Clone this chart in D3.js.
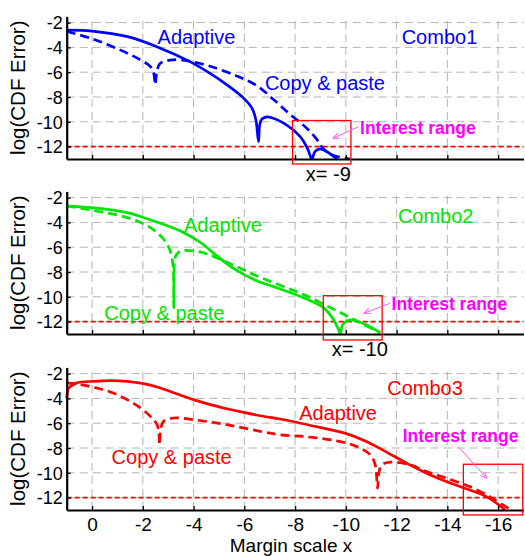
<!DOCTYPE html>
<html>
<head>
<meta charset="utf-8">
<script src="https://cdn.jsdelivr.net/npm/d3@7/dist/d3.min.js"></script>
<style>
  html, body { margin: 0; padding: 0; background: #fff; }
  svg { display: block; font-family: "Liberation Sans", Arial, Helvetica, sans-serif; }
</style>
</head>
<body>
<svg id="chart" width="525" height="556"></svg>
<script>
// Tick values shared by all three panels
const xTicks = [0, -2, -4, -6, -8, -10, -12, -14, -16];
const yTicks = [-2, -4, -6, -8, -10, -12];
const thresholdLevel = -12;

// Combo1: [margin scale x, log(CDF error)]
const combo1Adaptive = [
  [1, -2.6], [0, -2.68], [-1.4, -3.13], [-2.55, -3.94], [-3.86, -5.15], [-4.65, -6.1],
  [-5.3, -7.0], [-5.95, -8.05], [-6.3, -8.9], [-6.45, -9.8], [-6.56, -11.6],
  [-6.6, -10.3], [-6.68, -9.8], [-6.85, -9.62], [-7.05, -9.65], [-7.55, -10.1],
  [-8.2, -11.2], [-8.5, -12.2], [-8.66, -13.0], [-8.78, -12.4], [-8.95, -12.2],
  [-9.1, -12.25], [-9.4, -12.6], [-9.65, -13.0]
];
const combo1Copy = [
  [1, -2.72], [0, -3.3], [-1.1, -4.2], [-1.9, -5.0], [-2.3, -5.55], [-2.43, -6.1],
  [-2.49, -7.0], [-2.55, -6.0], [-2.68, -5.3], [-3.2, -5.0], [-3.86, -5.12],
  [-4.65, -5.52], [-5.7, -6.3], [-6.5, -7.1], [-7.15, -8.2], [-7.8, -9.4],
  [-8.45, -10.5], [-8.85, -11.4], [-9.1, -12.15], [-9.5, -12.7], [-10.15, -13.0]
];

// Combo2
const combo2Adaptive = [
  [1, -2.68], [0, -2.81], [-1.38, -3.21], [-2.43, -3.89], [-3.48, -4.69], [-4.26, -5.6],
  [-4.92, -6.7], [-5.57, -7.7], [-6.5, -8.72], [-7.15, -9.18], [-7.81, -9.66],
  [-8.47, -10.2], [-9.12, -10.87], [-9.5, -11.8], [-9.7, -12.6], [-9.78, -13.0],
  [-9.86, -12.3], [-10.04, -11.95], [-10.3, -11.87], [-10.83, -12.3], [-11.35, -12.89]
];
const combo2Copy = [
  [1, -2.68], [0, -3.02], [-1.38, -3.61], [-2.3, -4.42], [-2.82, -5.36], [-3.08, -6.3],
  [-3.19, -7.5], [-3.22, -10.87], [-3.25, -7.2], [-3.32, -6.6], [-3.5, -6.3],
  [-3.67, -6.25], [-4.26, -6.38], [-5.05, -6.97], [-5.84, -7.7], [-6.5, -8.32],
  [-7.15, -8.85], [-7.81, -9.39], [-8.47, -9.94], [-9.12, -10.6], [-9.78, -11.27],
  [-10.43, -11.95], [-11.22, -12.76], [-11.35, -12.89]
];

// Combo3
const combo3Adaptive = [
  [1, -4.0], [0.97, -3.5], [0.92, -3.16], [0.6, -2.75], [-0.07, -2.62], [-0.72, -2.57],
  [-1.38, -2.62], [-2.03, -2.81], [-2.69, -3.16], [-3.35, -3.64], [-4.0, -4.1],
  [-4.66, -4.5], [-5.31, -4.83], [-5.97, -5.13], [-6.63, -5.4], [-7.4, -5.66],
  [-8.0, -5.9], [-8.98, -6.34], [-9.96, -6.8], [-10.81, -7.47], [-11.6, -8.33],
  [-12.39, -9.22], [-13.18, -10.03], [-13.96, -10.71], [-14.88, -11.38],
  [-15.54, -11.92], [-16.19, -12.86], [-16.26, -13.0]
];
const combo3Copy = [
  [1, -2.75], [0.46, -2.89], [-0.07, -3.11], [-0.72, -3.48], [-1.38, -4.1], [-1.9, -4.77],
  [-2.3, -5.45], [-2.56, -6.12], [-2.63, -6.8], [-2.66, -7.74], [-2.7, -6.5],
  [-2.82, -5.85], [-3.22, -5.58], [-4.0, -5.72], [-5.31, -6.12], [-6.63, -6.66],
  [-7.4, -6.93], [-8.33, -7.07], [-9.64, -7.42], [-10.43, -7.88], [-10.96, -8.55],
  [-11.15, -9.3], [-11.25, -11.24], [-11.3, -10.0], [-11.42, -9.36], [-11.75, -9.14],
  [-12.54, -9.36], [-13.18, -9.9], [-13.96, -10.43], [-14.88, -11.11],
  [-15.67, -11.92], [-16.19, -12.59], [-16.52, -13.0]
];

const comboNames = ["Combo1", "Combo2", "Combo3"];
const adaptiveSeries = [combo1Adaptive, combo2Adaptive, combo3Adaptive];
const copySeries = [combo1Copy, combo2Copy, combo3Copy];
const markerLabels = ["x= -9", "x= -10", null];

// Per-panel layout and annotation placement (in data units)
const panels = [
  {
    bottom: 159, color: "#0000ff",
    adaptiveLabel: [-2.58, -3.75], comboLabel: [-12.2, -3.75], copyLabel: [-6.81, -7.44],
    box: [-7.9, -10.2, -9.9, -13.4],
    arrow: [[-10.49, -10.4], [-9.5, -11.33]], interestLabel: [-10.56, -10.98],
    markerLabel: [-8.42, -14.75]
  },
  {
    bottom: 334, color: "#00e600",
    adaptiveLabel: [-3.62, -4.75], comboLabel: [-12.05, -4.02], copyLabel: [-0.48, -11.9],
    box: [-9.11, -11.43, -9.91, -13.48],
    arrow: [[-11.74, -10.52], [-10.71, -11.33]], interestLabel: [-11.8, -11.06],
    markerLabel: [-9.44, -14.77]
  },
  {
    bottom: 510, color: "#ff0000",
    adaptiveLabel: [-8.16, -5.74], comboLabel: [-11.63, -3.73], copyLabel: [-0.77, -9.31],
    box: [-14.63, -16.97, -9.31, -13.4],
    arrow: [[-14.43, -7.9], [-15.55, -10.44]], interestLabel: [-12.24, -7.49],
    markerLabel: null
  }
];

const svg = d3.select("#chart");
const plotHeight = 142.6;
const x = d3.scaleLinear().domain([1, -17]).range([66.7, 523.5]);

svg.append("defs").append("marker")
  .attr("id", "arrowhead")
  .attr("viewBox", "0 0 10 10")
  .attr("refX", 9).attr("refY", 5)
  .attr("markerWidth", 7).attr("markerHeight", 7)
  .attr("markerUnits", "userSpaceOnUse")
  .attr("orient", "auto")
  .append("path")
  .attr("d", "M0,1 L9,5 L0,9")
  .attr("fill", "none")
  .attr("stroke", "#ff55ff")
  .attr("stroke-width", 1.3);

panels.forEach((p, i) => {
  const y = d3.scaleLinear().domain([-13, -1.5]).range([p.bottom, p.bottom - plotHeight]);
  const g = svg.append("g");
  const [x0, x1] = x.range();
  const [yb, yt] = y.range();

  // grid
  g.append("g").selectAll("line").data(xTicks).join("line")
    .attr("x1", d => x(d)).attr("x2", d => x(d))
    .attr("y1", yb).attr("y2", yt)
    .attr("stroke", "#b4b4b4").attr("stroke-width", 1).attr("stroke-dasharray", "8,5");
  g.append("g").selectAll("line").data(yTicks).join("line")
    .attr("x1", x0).attr("x2", x1)
    .attr("y1", d => y(d)).attr("y2", d => y(d))
    .attr("stroke", "#b4b4b4").attr("stroke-width", 1).attr("stroke-dasharray", "8,5");

  // threshold
  g.append("line")
    .attr("x1", x0).attr("x2", x1)
    .attr("y1", y(thresholdLevel)).attr("y2", y(thresholdLevel))
    .attr("stroke", "#ff0000").attr("stroke-width", 1.6).attr("stroke-dasharray", "5,3");

  // curves
  const line = d3.line().x(d => x(d[0])).y(d => y(d[1])).curve(d3.curveCatmullRom.alpha(0.5));
  g.append("path").datum(copySeries[i]).attr("d", line)
    .attr("fill", "none").attr("stroke", p.color).attr("stroke-width", 2.7)
    .attr("stroke-dasharray", "9,5");
  g.append("path").datum(adaptiveSeries[i]).attr("d", line)
    .attr("fill", "none").attr("stroke", p.color).attr("stroke-width", 2.7);

  // axes
  const xAxis = d3.axisBottom(x).tickValues(xTicks).tickSizeInner(-4).tickSizeOuter(0)
    .tickFormat(i === 2 ? (d => String(d)) : () => "");
  const gx = g.append("g").attr("transform", `translate(0,${yb})`).call(xAxis);
  gx.select(".domain").attr("stroke", "#000").attr("stroke-width", 2.2);
  gx.selectAll(".tick line").attr("stroke", "#000").attr("stroke-width", 1.3);
  gx.selectAll(".tick text").attr("fill", "#000").attr("font-size", 19)
    .attr("y", 21).attr("dy", 0);

  const yAxis = d3.axisLeft(y).tickValues(yTicks).tickSizeInner(-4).tickSizeOuter(0)
    .tickFormat(d => String(d));
  const gy = g.append("g").attr("transform", `translate(${x0},0)`).call(yAxis);
  gy.select(".domain").attr("stroke", "#000").attr("stroke-width", 2.2);
  gy.selectAll(".tick line").attr("stroke", "#000").attr("stroke-width", 1.3);
  gy.selectAll(".tick text").attr("fill", "#000").attr("font-size", 18)
    .attr("x", -4).attr("dy", "0.35em");

  // y title
  g.append("text")
    .attr("transform", `translate(25,${(yb + yt) / 2}) rotate(-90)`)
    .attr("text-anchor", "middle").attr("font-size", 20.5).attr("fill", "#000")
    .text("log(CDF Error)");

  // interest box and pointer
  const [bx0, bx1, by0, by1] = p.box;
  g.append("rect")
    .attr("x", x(bx0)).attr("y", y(by0))
    .attr("width", x(bx1) - x(bx0)).attr("height", y(by1) - y(by0))
    .attr("fill", "none").attr("stroke", "#ff0000").attr("stroke-width", 1.3);
  g.append("line")
    .attr("x1", x(p.arrow[0][0])).attr("y1", y(p.arrow[0][1]))
    .attr("x2", x(p.arrow[1][0])).attr("y2", y(p.arrow[1][1]))
    .attr("stroke", "#ff55ff").attr("stroke-width", 1)
    .attr("marker-end", "url(#arrowhead)");

  // labels
  const label = (pos, txt, color, size, weight) => g.append("text")
    .attr("x", x(pos[0])).attr("y", y(pos[1]))
    .attr("fill", color).attr("font-size", size).attr("font-weight", weight || "normal")
    .text(txt);
  label(p.adaptiveLabel, "Adaptive", p.color, 20);
  label(p.comboLabel, comboNames[i], p.color, 20);
  label(p.copyLabel, "Copy & paste", p.color, 20);
  label(p.interestLabel, "Interest range", "#ff00ff", 17.5, "bold");
  if (p.markerLabel) label(p.markerLabel, markerLabels[i], "#000", 20);
});

// shared x title
svg.append("text")
  .attr("x", 291).attr("y", 552)
  .attr("text-anchor", "middle").attr("font-size", 19).attr("fill", "#000")
  .text("Margin scale x");
</script>
</body>
</html>
